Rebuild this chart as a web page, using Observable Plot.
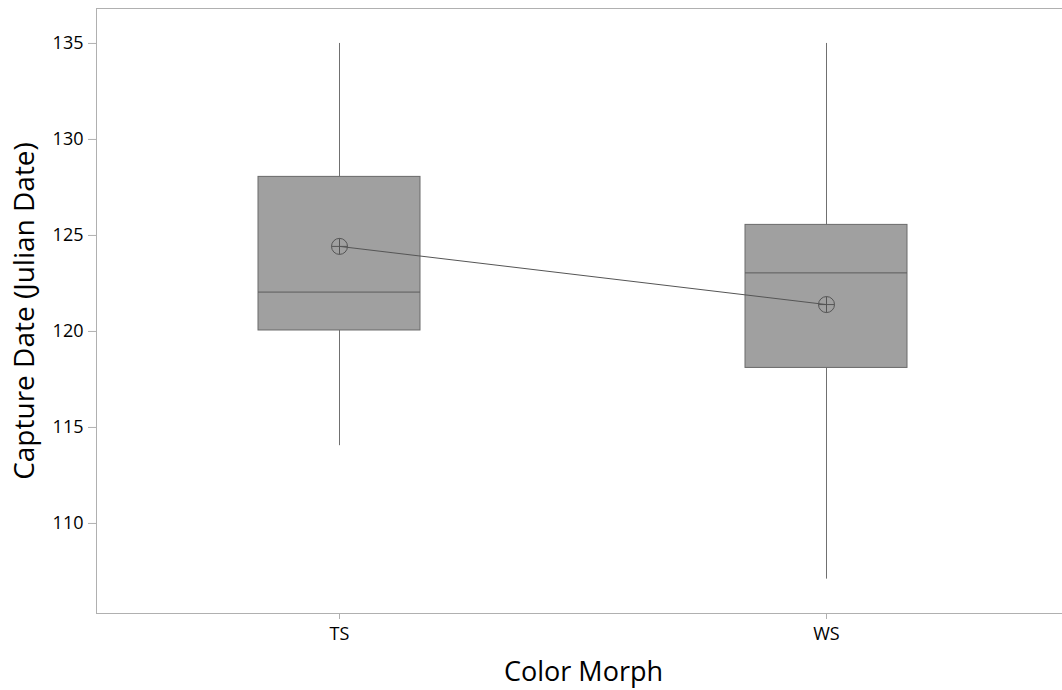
<!DOCTYPE html>
<html><head><meta charset="utf-8">
<script src="https://cdn.jsdelivr.net/npm/d3@7"></script>
<script src="https://cdn.jsdelivr.net/npm/@observablehq/plot@0.6"></script>
<style>
html,body{margin:0;padding:0;background:#fff;overflow:hidden;}
#chart{width:1062px;overflow:hidden;}
#chart svg{overflow:hidden;display:block;max-width:none;}
</style></head><body><div id="chart"></div>
<script>
const morphs = ["TS", "WS"];
const q1 = [120.05, 118.1];
const medians = [122.05, 123.05];
const q3 = [128.05, 125.55];
const whiskerLow = [114.05, 107.1];
const whiskerHigh = [135, 135];
const means = [124.43, 121.4];
const yTicks = [110, 115, 120, 125, 130, 135];
const xLabel = "Color Morph";
const yLabel = "Capture Date (Julian Date)";

const rows = morphs.map((m, i) => ({morph: m, q1: q1[i], med: medians[i], q3: q3[i], lo: whiskerLow[i], hi: whiskerHigh[i], mean: means[i]}));

const font = "'Open Sans', sans-serif";
const plusCircle = {draw(ctx, size) {
  const r = Math.sqrt(size / Math.PI);
  ctx.moveTo(r, 0); ctx.arc(0, 0, r, 0, 2 * Math.PI);
  ctx.moveTo(-r, 0); ctx.lineTo(r, 0);
  ctx.moveTo(0, -r); ctx.lineTo(0, r);
}};

const chart = Plot.plot({
  width: 1066, height: 690,
  marginLeft: 96, marginRight: 0, marginTop: 8, marginBottom: 77,
  style: {fontFamily: font, fontSize: "18px", color: "#000", background: "#fff"},
  x: {type: "band", domain: morphs, range: [96, 1070], paddingInner: 0.667, paddingOuter: 0.333, align: 0.5},
  y: {domain: [105.31, 136.82]},
  marks: [
    Plot.frame({stroke: "#b0b0b0"}),
    Plot.ruleX(rows, {x: "morph", y1: "lo", y2: "q1", stroke: "#707070"}),
    Plot.ruleX(rows, {x: "morph", y1: "q3", y2: "hi", stroke: "#707070"}),
    Plot.barY(rows, {x: "morph", y1: "q1", y2: "q3", fill: "#a0a0a0", stroke: "#6a6a6a", strokeWidth: 1}),
    Plot.tickY(rows, {x: "morph", y: "med", stroke: "#5c5c5c"}),
    Plot.line(rows, {x: "morph", y: "mean", stroke: "#555", strokeWidth: 1}),
    Plot.dot(rows, {x: "morph", y: "mean", r: 8, symbol: plusCircle, stroke: "#555", fill: "none", strokeWidth: 1}),
    Plot.axisY({ticks: yTicks, tickSize: 8, tickPadding: 5, stroke: "#b0b0b0", label: null, fontSize: 18, fill: "#000"}),
    Plot.axisX({tickSize: 6, tickPadding: 8, stroke: "#b0b0b0", label: null, fontSize: 18, fill: "#000"}),
    Plot.text([yLabel], {text: d => d, frameAnchor: "left", textAnchor: "middle", rotate: -90, dx: -71, fontSize: 28, fill: "#000"}),
    Plot.text([xLabel], {text: d => d, frameAnchor: "bottom", textAnchor: "middle", dx: 2, dy: 67, fontSize: 27, fill: "#000"})
  ]
});
document.getElementById("chart").appendChild(chart);
</script></body></html>
